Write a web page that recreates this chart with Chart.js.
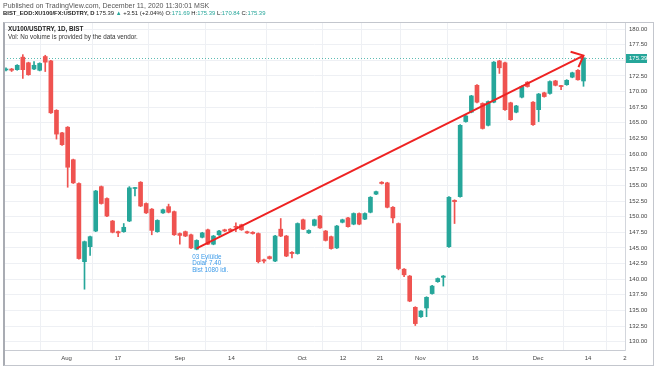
<!DOCTYPE html>
<html><head><meta charset="utf-8">
<script src="https://cdn.jsdelivr.net/npm/chart.js@4.4.1/dist/chart.umd.min.js"></script>
<style>
html,body{margin:0;padding:0;background:#fff;}
#wrap{position:relative;width:654px;height:366px;overflow:hidden;font-family:"Liberation Sans",Arial,sans-serif;}
canvas{position:absolute;left:0;top:0;}
.t{position:absolute;white-space:nowrap;line-height:1;}
.g{color:#26a69a;}
#frame{position:absolute;left:3px;top:22px;width:648px;height:342px;border:1px solid #c3c6cd;border-left:2px solid #a9acb3;pointer-events:none;}
</style></head><body>
<div id="wrap">
<canvas id="c" width="654" height="366"></canvas>
<div id="frame"></div>
<div class="t" style="left:3px;top:2px;font-size:7px;color:#555">Published on TradingView.com, December 11, 2020 11:30:01 MSK</div>
<div class="t" style="left:3px;top:11px;font-size:5.9px;color:#222"><b>BIST_EOD:XU100/FX:USDTRY, D</b> 175.39 <span class="g">▲</span> +3.51 (+2.04%) O:<span class="g">171.69</span> H:<span class="g">175.39</span> L:<span class="g">170.84</span> C:<span class="g">175.39</span></div>
<div class="t" style="left:8px;top:26px;font-size:6.3px;color:#222;font-weight:bold">XU100/USDTRY, 1D, BIST</div>
<div class="t" style="left:8px;top:34px;font-size:6.3px;color:#333">Vol: No volume is provided by the data vendor.</div>
</div>
<script>
// ---- data (daily candles, left to right) ----
const openPrices  = [173.45,173.6,173.5,175.5,174.6,173.6,173.4,175.6,174.9,167.0,163.4,164.3,159.1,155.3,142.8,145.2,147.7,154.8,152.9,149.3,147.6,147.6,149.3,154.5,155.5,152.1,151.2,147.6,150.6,151.6,150.8,147.3,147.6,147.1,144.8,146.7,147.9,145.6,147.1,147.9,148.0,148.4,148.7,147.6,147.5,147.3,143.1,143.6,142.9,148.0,146.9,144.3,144.1,149.5,147.4,148.6,150.1,147.7,146.8,145.0,149.1,149.8,148.8,150.5,149.6,150.7,153.6,155.5,155.4,151.5,148.9,141.6,140.5,135.5,134.0,135.4,137.7,139.6,140.3,145.2,152.6,153.2,165.2,166.7,171.0,168.1,164.6,168.3,174.9,174.6,168.2,166.7,169.1,171.5,168.3,167.1,169.8,169.7,171.7,170.9,171.1,172.3,173.4,171.69];
const highPrices  = [173.8,173.7,174.3,175.9,174.7,174.8,174.6,175.8,175.0,167.1,163.5,164.4,159.2,155.4,146.1,146.9,154.2,154.9,153.0,149.4,147.7,148.9,154.8,154.7,155.6,152.2,151.3,149.5,151.2,152.0,150.9,147.4,147.7,147.2,146.3,147.5,148.0,147.0,147.8,148.0,148.1,149.0,148.8,147.7,147.6,147.4,143.2,143.7,147.0,149.7,147.0,144.4,149.0,149.6,147.9,149.6,150.2,147.8,146.9,148.6,149.6,149.9,150.6,150.6,150.6,153.2,154.1,155.6,155.5,151.6,149.0,141.7,140.6,135.6,135.0,137.2,139.0,140.2,140.6,153.2,152.7,164.7,166.2,169.4,171.1,168.2,168.5,174.8,175.0,174.7,168.3,167.8,170.9,171.6,168.4,169.7,169.9,171.7,171.8,171.0,171.9,173.1,173.5,175.39];
const lowPrices   = [173.3,173.2,173.4,172.1,172.6,173.5,173.3,173.2,166.5,162.4,161.4,154.7,155.3,143.2,138.4,143.8,147.6,152.0,150.0,147.4,146.8,147.5,149.2,153.3,151.6,150.5,147.1,147.5,150.5,150.6,147.0,145.6,146.8,144.9,144.7,146.6,145.5,145.5,147.0,147.6,147.7,147.6,147.8,147.3,147.2,142.6,142.6,143.2,142.8,146.8,143.6,143.4,144.0,147.9,147.3,148.5,148.1,146.1,144.8,144.9,149.0,148.3,148.7,148.7,149.5,150.6,153.5,155.2,151.4,149.0,141.5,140.4,136.4,132.6,133.9,134.0,137.6,139.5,138.9,145.1,148.9,153.1,165.1,166.6,168.2,164.0,164.5,168.2,172.9,167.0,165.4,166.6,169.0,170.7,164.6,165.2,169.1,169.6,170.9,170.3,171.0,172.2,171.8,170.84];
const closePrices = [173.6,173.4,174.2,173.5,172.7,174.2,174.5,174.7,166.6,163.2,161.5,157.9,155.4,143.3,146.0,146.8,154.1,152.1,150.1,147.5,147.4,148.3,154.6,154.6,151.7,150.6,147.8,149.4,151.1,150.7,147.1,147.0,146.9,145.0,146.2,147.4,145.6,146.9,147.7,147.7,147.8,148.3,147.9,147.4,147.3,142.8,142.9,143.3,146.9,146.9,143.7,144.1,148.9,148.0,147.8,149.5,148.2,146.2,144.9,148.5,149.5,148.4,150.5,148.8,150.5,153.1,154.0,155.3,151.5,149.8,141.7,140.7,136.5,132.9,134.9,137.1,138.9,140.1,140.5,153.1,152.4,164.6,166.1,169.3,168.3,164.1,168.4,174.7,173.8,167.1,165.5,167.7,170.8,170.8,164.7,169.6,169.2,171.6,171.0,170.8,171.8,173.0,171.88,175.39];

// time-axis labels and the candle slot each one sits on
const timeTickLabels = ["Aug","17","Sep","14","Oct","12","21","Nov","16","Dec","14","2"];
const timeTickSlots  = [10.8,19.95,31.0,40.2,52.8,60.1,66.7,73.9,83.7,94.9,103.8,110.4];
// price-axis ticks
const priceTicks = [130,132.5,135,137.5,140,142.5,145,147.5,150,152.5,155,157.5,160,162.5,165,167.5,170,172.5,175,177.5,180];
const lastPrice = 175.39;
// hand-drawn trend arrow (candle slot, price)
const trendLine = [{x:34.0,y:144.93},{x:103.0,y:175.76}];
const arrowHead = [{x:100.7,y:176.37},{x:103.0,y:175.76},{x:102.1,y:173.9}];
const noteLines = ["03 Eylülde","Dolar 7.40","Bist 1080 idi."];
const noteAnchor = {x:33.2, y:143.55};

const UP = '#26a69a', DOWN = '#ef5350';
const colors = openPrices.map((o,i)=> closePrices[i] >= o ? UP : DOWN);
const wickData = openPrices.map((o,i)=>({x:i, y:[lowPrices[i], highPrices[i]]}));
const bodyData = openPrices.map((o,i)=>({x:i, y:[o, closePrices[i]]}));
const X_MIN = -0.357, X_MAX = 110.4;

const overlay = {
  id:'overlay',
  beforeDatasetsDraw(chart){
    const {ctx, chartArea:a, scales:{y}} = chart;
    const py = Math.round(y.getPixelForValue(lastPrice))+0.5;
    ctx.save();
    ctx.strokeStyle='rgba(38,166,154,0.75)';
    ctx.lineWidth=1; ctx.setLineDash([1,2]);
    ctx.beginPath(); ctx.moveTo(a.left,py); ctx.lineTo(a.right,py); ctx.stroke();
    ctx.restore();
  },
  afterDraw(chart){
    const {ctx, chartArea:a, scales:{x,y}} = chart;
    ctx.save();
    const py = Math.round(y.getPixelForValue(lastPrice));
    ctx.fillStyle=UP;
    ctx.fillRect(a.right+1, py-4, 21, 9);
    ctx.fillStyle='#fff';
    ctx.font='6px "Liberation Sans", Arial, sans-serif';
    ctx.textBaseline='middle'; ctx.textAlign='left';
    ctx.fillText(lastPrice.toFixed(2), a.right+4, py+0.5);
    ctx.fillStyle='#3d9be9';
    ctx.font='6.3px "Liberation Sans", Arial, sans-serif';
    const nx = x.getPixelForValue(noteAnchor.x);
    const ny = y.getPixelForValue(noteAnchor.y);
    noteLines.forEach((t,k)=>ctx.fillText(t, nx, ny + k*6.5));
    ctx.restore();
  }
};

new Chart(document.getElementById('c'), {
  type:'bar',
  data:{datasets:[
    {type:'line', data:trendLine, borderColor:'#ee2222', borderWidth:2, pointRadius:0, order:0},
    {type:'line', data:arrowHead, borderColor:'#ee2222', borderWidth:2, pointRadius:0, order:0},
    {data:bodyData, backgroundColor:colors, barThickness:4, minBarLength:1, grouped:false, order:1},
    {data:wickData, backgroundColor:colors, barThickness:1, grouped:false, order:2}
  ]},
  options:{
    responsive:false, animation:false, devicePixelRatio:1,
    layout:{padding:{left:4,top:22,right:2,bottom:1}},
    plugins:{legend:{display:false}, tooltip:{enabled:false}},
    scales:{
      x:{type:'linear', min:X_MIN, max:X_MAX, offset:false,
        afterBuildTicks(s){ s.ticks = timeTickSlots.map(v=>({value:v})); },
        afterFit(s){ s.height = 15; },
        grid:{color:'#eef0f4', drawTicks:false},
        border:{color:'#c8cbd2'},
        ticks:{padding:5, autoSkip:false, maxRotation:0, color:'#444',
          font:{size:6, family:'"Liberation Sans", Arial, sans-serif'},
          callback(v,idx){ return timeTickLabels[idx]; }}
      },
      y:{position:'right', min:128.68, max:181.12,
        afterBuildTicks(s){ s.ticks = priceTicks.map(v=>({value:v})); },
        afterFit(s){ s.width = 27; },
        grid:{color:'#eef0f4', drawTicks:false},
        border:{color:'#d3d6dc'},
        ticks:{padding:4, color:'#444',
          font:{size:6, family:'"Liberation Sans", Arial, sans-serif'},
          callback(v){ return Number(v).toFixed(2); }}
      }
    }
  },
  plugins:[overlay]
});
</script>
</body></html>
